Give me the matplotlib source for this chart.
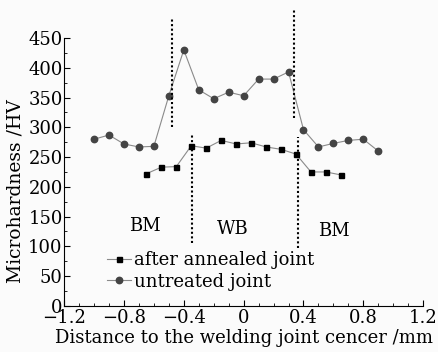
import numpy as np
import matplotlib.pyplot as plt
from matplotlib.ticker import MultipleLocator

# ---------------------------------------------------------------------------
# Data
# ---------------------------------------------------------------------------
x_untreated = [-1.0, -0.9, -0.8, -0.7, -0.6, -0.5, -0.4, -0.3, -0.2, -0.1,
               0.0, 0.1, 0.2, 0.3, 0.4, 0.5, 0.6, 0.7, 0.8, 0.9]
hv_untreated = [280, 287, 272, 267, 268, 353, 430, 363, 348, 359,
                353, 381, 381, 393, 296, 267, 273, 278, 280, 260]

x_annealed = [-0.65, -0.55, -0.45, -0.35, -0.25, -0.15, -0.05,
              0.05, 0.15, 0.25, 0.35, 0.45, 0.55, 0.65]
hv_annealed = [222, 233, 234, 269, 265, 278, 272,
               274, 267, 263, 255, 225, 225, 220]

# zone boundaries: (x, y_bottom, y_top)
bounds_untreated = [(-0.48, 300, 485), (0.335, 315, 499)]
bounds_annealed = [(-0.345, 106, 290), (0.365, 98, 284)]

zones = [("BM", -0.66, 134), ("WB", -0.075, 130), ("BM", 0.6, 125)]

plt.rcParams["font.family"] = "DejaVu Serif"
plt.rcParams["mathtext.fontset"] = "dejavuserif"

fig = plt.figure(figsize=(4.39, 3.52), dpi=100, facecolor="#fbfbfb")
ax = fig.add_axes([0.146, 0.131, 0.818, 0.761])
ax.set_facecolor("#fbfbfb")

ax.plot(x_annealed, hv_annealed, color="#8a8a8a", lw=0.8, marker="s",
        ms=3.6, mfc="black", mec="black", label="after annealed joint")
ax.plot(x_untreated, hv_untreated, color="#8a8a8a", lw=0.8, marker="o",
        ms=4.6, mfc="#444444", mec="#444444", label="untreated joint")

for xb, y0, y1 in bounds_untreated + bounds_annealed:
    ax.plot([xb, xb], [y0, y1], color="black", ls=(0, (1, 1.2)), lw=1.5,
            clip_on=False)

for txt, xt, yt in zones:
    ax.text(xt, yt, txt, fontsize=13, ha="center", va="center")

ax.set_xlim(-1.2, 1.2)
ax.set_ylim(0, 450)
ax.xaxis.set_minor_locator(MultipleLocator(0.1))
ax.yaxis.set_major_locator(MultipleLocator(50))
ax.yaxis.set_minor_locator(MultipleLocator(25))
ax.set_xticks(np.arange(-1.2, 1.21, 0.4))
ax.set_xticklabels(["\u22121.2", "\u22120.8", "\u22120.4", "0", "0.4", "0.8", "1.2"])
ax.tick_params(which="both", direction="in", labelsize=13, pad=1)
ax.tick_params(axis="x", pad=2.5)
ax.tick_params(which="major", length=4)
ax.tick_params(which="minor", length=2)
ax.spines["top"].set_visible(False)
ax.spines["right"].set_visible(False)
ax.set_xlabel("Distance to the welding joint cencer /mm", fontsize=13, labelpad=1)
ax.set_ylabel("Microhardness /HV", fontsize=13.5)
ax.yaxis.set_label_coords(-0.11, 0.43)

ax.legend(loc="lower left", bbox_to_anchor=(0.1, 0.03), frameon=False,
          fontsize=13, handlelength=1.3, handletextpad=0.2, labelspacing=0.2,
          borderaxespad=0)

fig.savefig("out.png", dpi=100, facecolor=fig.get_facecolor())
